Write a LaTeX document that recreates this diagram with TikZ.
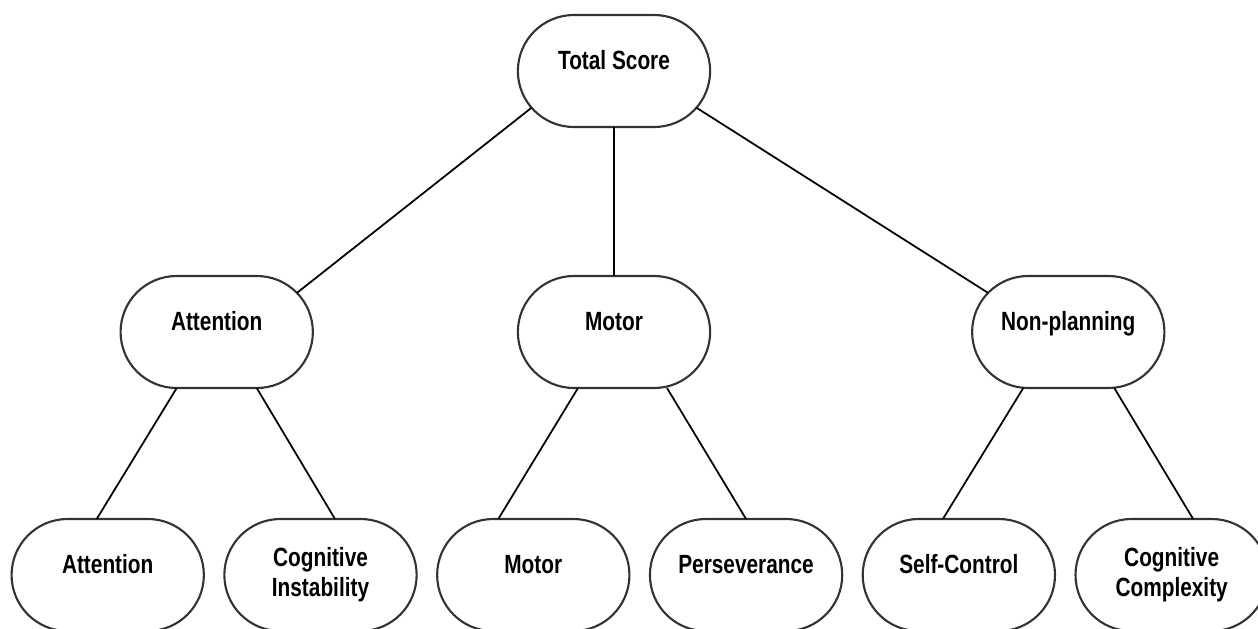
\documentclass[tikz,border=0pt]{standalone}
\usepackage{fontspec}
\setmainfont{Liberation Sans}[FakeStretch=0.79]
\usetikzlibrary{shapes.misc, positioning}
\tikzset{
    base/.style = {
        draw=black!80, line width=1.2pt, align=center, outer sep=0pt,
        font=\bfseries\fontsize{15pt}{17pt}\selectfont
    },
    % Scale boxes
    scalebox/.style = {base, rounded rectangle, minimum width=4.08cm, minimum height=2.24cm},
    oneline/.style  = {text height=0.45cm, text depth=0.51cm},
    % Edges
    link/.style = {line width=1pt, black}
}

\begin{document}
\begin{tikzpicture}
    \useasboundingbox (0,0) rectangle (25.16,-12.58);

    % Total score (top)
    \node (total) [scalebox, oneline] at (12.28,-1.42) {Total Score};

    % Second-order factors
    \node (motor) [scalebox, oneline, below=2.98cm of total] {Motor};
    \node (attn) [scalebox, oneline, left=4.10cm of motor] {Attention};
    \node (nonplan) [scalebox, oneline, right=5.24cm of motor] {Non-planning};

    % First-order factors (bottom row)
    \node (attn_sub) [scalebox, oneline, below=2.62cm of attn, xshift=-2.18cm] {Attention};
    \node (cog_inst) [scalebox, right=0.41cm of attn_sub] {Cognitive\\Instability};
    \node (motor_sub) [scalebox, oneline, right=0.41cm of cog_inst] {Motor};
    \node (persev) [scalebox, oneline, right=0.41cm of motor_sub] {Perseverance};
    \node (self_ctrl) [scalebox, oneline, right=0.41cm of persev] {Self-Control};
    \node (cog_comp) [scalebox, right=0.41cm of self_ctrl] {Cognitive\\Complexity};

    % --- Connections ---

    % Total to second-order
    \draw [link] (total.204) -- (attn.26);
    \draw [link] (total.south) -- (motor.north);
    \draw [link] (total.336) -- (nonplan.154);

    % Second-order to first-order
    \draw [link] ([xshift=-0.8cm]attn.south) -- ([xshift=-0.22cm]attn_sub.north);
    \draw [link] ([xshift=0.8cm]attn.south) -- ([xshift=0.29cm]cog_inst.north);
    \draw [link] ([xshift=-0.72cm]motor.south) -- ([xshift=-0.7cm]motor_sub.north);
    \draw [link] ([xshift=1.06cm]motor.south) -- (persev.north);
    \draw [link] ([xshift=-0.9cm]nonplan.south) -- ([xshift=-0.32cm]self_ctrl.north);
    \draw [link] ([xshift=0.92cm]nonplan.south) -- ([xshift=0.43cm]cog_comp.north);

\end{tikzpicture}
\end{document}
